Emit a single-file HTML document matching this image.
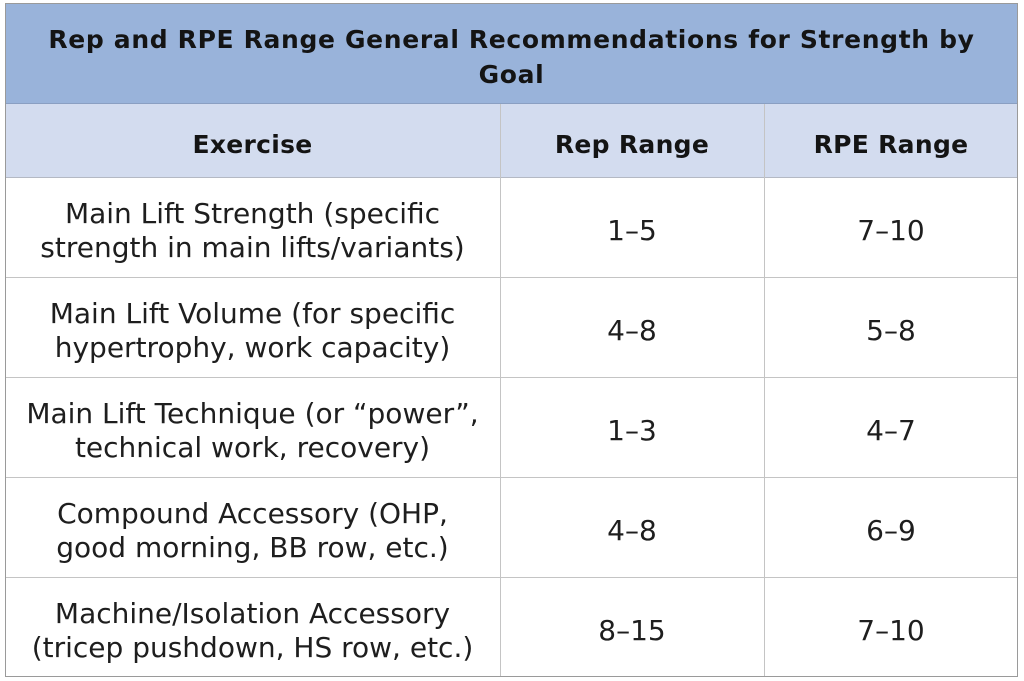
<!DOCTYPE html>
<html>
<head>
<meta charset="utf-8">
<style>
  html, body { margin:0; padding:0; background:#ffffff; }
  body { width:1024px; height:681px; position:relative; overflow:hidden;
         font-family:"DejaVu Sans","Liberation Sans",sans-serif; color:#1e1e1e; }
  .box { position:absolute; left:5px; top:3px; width:1011px; height:672px;
         border:1.5px solid #9a9a9a; }
  .title { position:absolute; left:5px; top:3px; width:1013px; height:100px;
           background:#99b3da; border-bottom:1px solid #8a9fc2; }
  .hdr { position:absolute; left:5px; top:104px; width:1013px; height:73px;
         background:#d3dcef; border-bottom:1px solid #b4b9c4; }
  .hl { position:absolute; left:5px; width:1013px; height:0; border-top:1.5px solid #c4c4c4; }
  .vl { position:absolute; top:104px; height:573px; width:0; border-left:1.5px solid #c4c4c4; }
  .t { position:absolute; text-align:center; white-space:nowrap; }
  .tt { left:5px; width:1013px; top:22px; font-size:25px; line-height:35px; font-weight:bold; letter-spacing:0.65px; color:#141414; }
  .h { top:130px; font-size:25px; line-height:30px; font-weight:bold; letter-spacing:0.3px; color:#141414; }
  .c1 { left:5px; width:495px; }
  .c2 { left:500px; width:264px; }
  .c3 { left:764px; width:254px; }
  .b { font-size:28px; line-height:34px; }
</style>
</head>
<body>
<div class="title"></div>
<div class="hdr"></div>

<div class="hl" style="top:277px"></div>
<div class="hl" style="top:377px"></div>
<div class="hl" style="top:477px"></div>
<div class="hl" style="top:577px"></div>

<div class="vl" style="left:499.5px"></div>
<div class="vl" style="left:763.5px"></div>

<div class="box"></div>

<div class="t tt">Rep and RPE Range General Recommendations for Strength by<br>Goal</div>

<div class="t h c1">Exercise</div>
<div class="t h c2">Rep Range</div>
<div class="t h c3">RPE Range</div>

<div class="t b c1" style="top:197px">Main Lift Strength (specific<br>strength in main lifts/variants)</div>
<div class="t b c2" style="top:214px">1–5</div>
<div class="t b c3" style="top:214px">7–10</div>

<div class="t b c1" style="top:297px">Main Lift Volume (for specific<br>hypertrophy, work capacity)</div>
<div class="t b c2" style="top:314px">4–8</div>
<div class="t b c3" style="top:314px">5–8</div>

<div class="t b c1" style="top:397px">Main Lift Technique (or “power”,<br>technical work, recovery)</div>
<div class="t b c2" style="top:414px">1–3</div>
<div class="t b c3" style="top:414px">4–7</div>

<div class="t b c1" style="top:497px">Compound Accessory (OHP,<br>good morning, BB row, etc.)</div>
<div class="t b c2" style="top:514px">4–8</div>
<div class="t b c3" style="top:514px">6–9</div>

<div class="t b c1" style="top:597px">Machine/Isolation Accessory<br>(tricep pushdown, HS row, etc.)</div>
<div class="t b c2" style="top:614px">8–15</div>
<div class="t b c3" style="top:614px">7–10</div>
</body>
</html>
